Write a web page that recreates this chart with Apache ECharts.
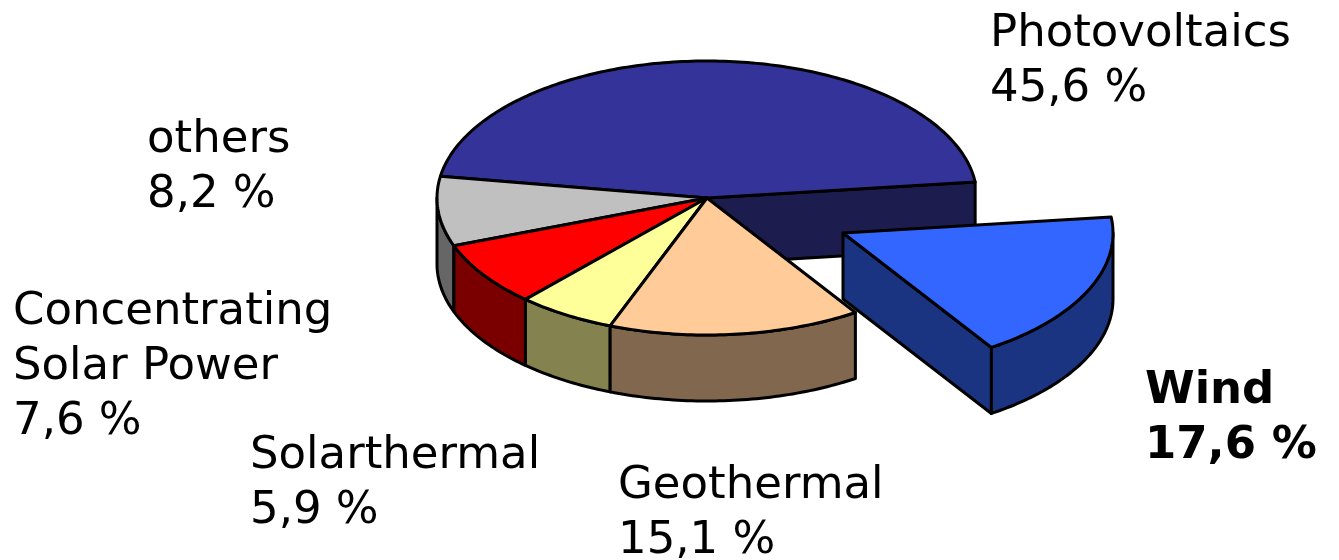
<!DOCTYPE html>
<html>
<head>
<meta charset="utf-8">
<script src="https://cdn.jsdelivr.net/npm/echarts@6/dist/echarts.min.js"></script>
<style>
  html, body { margin: 0; padding: 0; background: #fff; }
  #main { width: 1339px; height: 560px; }
</style>
</head>
<body>
<div id="main"></div>
<script>
var names = ['Photovoltaics', 'others', 'Concentrating\nSolar Power', 'Solarthermal', 'Geothermal', 'Wind'];
var shares = [45.6, 8.2, 7.6, 5.9, 15.1, 17.6];
var exploded = [false, false, false, false, false, true];

var topColors = ['#333399', '#c0c0c0', '#ff0000', '#ffff99', '#ffcc99', '#3366ff'];
var sideColors = ['#1c1c4e', '#666666', '#7a0000', '#84834f', '#80674e', '#1b3482'];

// ellipse of the pie top, thickness, start angle (deg, counter-clockwise)
var cx = 707, cy = 198, rx = 270, ry = 137, depth = 66;
var startAngle = 6.7;
var explodeOffset = [136, 35];

var labelPos = [[990, 7], [147, 113], [13, 285], [250, 429], [618, 459], [1145, 364]];

var total = shares.reduce(function (s, v) { return s + v; }, 0);
var angles = [];
var acc = startAngle;
shares.forEach(function (v) {
  var a = 360 * v / total;
  angles.push([acc, acc + a]);
  acc += a;
});

function pt(ox, oy, deg, dz) {
  var r = deg * Math.PI / 180;
  return [ox + rx * Math.cos(r), oy - ry * Math.sin(r) + (dz || 0)];
}
function arc(ox, oy, a0, a1, dz) {
  var pts = [];
  var n = Math.max(2, Math.ceil(Math.abs(a1 - a0)));
  for (var k = 0; k <= n; k++) {
    pts.push(pt(ox, oy, a0 + (a1 - a0) * k / n, dz));
  }
  return pts;
}
function fmt(v) {
  return v.toFixed(1).replace('.', ',') + ' %';
}

var lineStyle = { stroke: '#000', lineWidth: 3, lineJoin: 'round' };

function renderSlice(params, api) {
  var i = params.dataIndex;
  var n = shares.length;
  var a0 = angles[i][0], a1 = angles[i][1];
  var ex = exploded[i];
  var ox = cx + (ex ? explodeOffset[0] : 0);
  var oy = cy + (ex ? explodeOffset[1] : 0);
  var base = ex ? 10 : 0;
  var side = sideColors[i];
  var children = [];

  function face(pts, fill, z2) {
    children.push({
      type: 'polygon',
      z2: z2,
      shape: { points: pts },
      style: Object.assign({ fill: fill }, lineStyle)
    });
  }

  // radial faces, only where a gap makes them visible
  var prevEx = exploded[(i + n - 1) % n], nextEx = exploded[(i + 1) % n];
  if ((ex || prevEx) && Math.cos(a0 * Math.PI / 180) > 0) {
    var p = pt(ox, oy, a0);
    face([[ox, oy], p, [p[0], p[1] + depth], [ox, oy + depth]], side, base + 1);
  }
  if ((ex || nextEx) && Math.cos(a1 * Math.PI / 180) < 0) {
    var q = pt(ox, oy, a1);
    face([[ox, oy], q, [q[0], q[1] + depth], [ox, oy + depth]], side, base + 1);
  }

  // outer wall on the front half
  [[180, 360], [540, 720]].forEach(function (rng) {
    var b0 = Math.max(a0, rng[0]), b1 = Math.min(a1, rng[1]);
    if (b1 > b0) {
      var topArc = arc(ox, oy, b0, b1, 0);
      var botArc = arc(ox, oy, b1, b0, depth);
      face(topArc.concat(botArc), side, base + 2);
    }
  });

  // top face
  face([[ox, oy]].concat(arc(ox, oy, a0, a1, 0)), topColors[i], base + 3);

  return { type: 'group', children: children };
}

var chart = echarts.init(document.getElementById('main'));

var option = {
  animation: false,
  graphic: names.map(function (name, i) {
    return {
      type: 'text',
      x: labelPos[i][0],
      y: labelPos[i][1],
      style: {
        text: name + '\n' + fmt(shares[i]),
        fontFamily: 'DejaVu Sans',
        fontSize: 45,
        fontWeight: exploded[i] ? 'bold' : 'normal',
        lineHeight: 55,
        fill: '#000',
        verticalAlign: 'top'
      }
    };
  }),
  series: [
    {
      type: 'custom',
      coordinateSystem: 'none',
      renderItem: renderSlice,
      data: shares.map(function (v, i) { return [v, i]; })
    }
  ]
};

chart.setOption(option);
</script>
</body>
</html>
